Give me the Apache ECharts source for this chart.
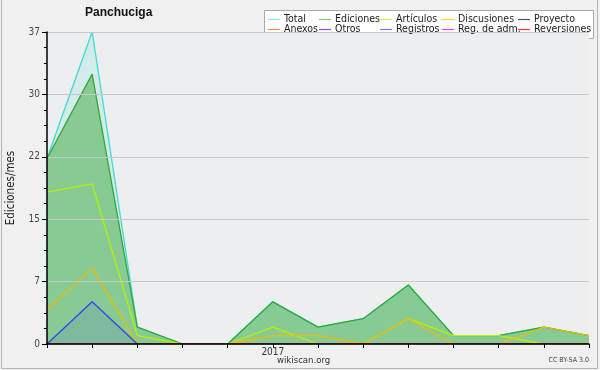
<!DOCTYPE html>
<html>
<head>
<meta charset="utf-8">
<script src="https://cdn.jsdelivr.net/npm/echarts@6/dist/echarts.min.js"></script>
<style>
html,body{margin:0;padding:0;background:#f0f0f0;}
#c{width:600px;height:370px;}
</style>
</head>
<body>
<div id="c"></div>
<script>
var categories = ['2016-08','2016-09','2016-10','2016-11','2016-12','2017-01','2017-02','2017-03','2017-04','2017-05','2017-06','2017-07','2017-08'];
var tickLabels = ['', '', '', '', '', '2017', '', '', '', '', '', '', ''];

var total       = [22, 37, 2, 0, 0, 5, 2, 3, 7, 1, 1, 2, 1];
var ediciones   = [22, 32, 2, 0, 0, 5, 2, 3, 7, 1, 1, 2, 1];
var articulos   = [18, 19, 1, 0, 0, 2, 0, 0, 3, 1, 1, 0, 0];
var discusiones = [4, 9, 0, 0, 0, 1, 1, 0, 3, 0, 0, 2, 1];
var proyecto    = [0, 0, 0, 0, 0, 0, 0, 0, 0, 0, 0, 0, 0];
var anexos      = [0, 0, 0, 0, 0, 0, 0, 0, 0, 0, 0, 0, 0];
var otros       = [0, 0, 0, 0, 0, 0, 0, 0, 0, 0, 0, 0, 0];
var registros   = [0, 5, 0, 0, 0, 0, 0, 0, 0, 0, 0, 0, 0];
var regAdm      = [0, 0, 0, 0, 0, 0, 0, 0, 0, 0, 0, 0, 0];
var reversiones = [0, 0, 0, 0, 0, 0, 0, 0, 0, 0, 0, 0, 0];

var seriesDefs = [
  {name:'Total', data: total, color:'#3ddbd0', legendColor:'#9ae6e2', area:'rgba(64,224,208,0.15)'},
  {name:'Ediciones', data: ediciones, color:'#33a833', legendColor:'#80cc80', area:'rgba(60,170,60,0.5)'},
  {name:'Artículos', data: articulos, color:'#b8f000', legendColor:'#ccee55'},
  {name:'Discusiones', data: discusiones, color:'#eebb00', legendColor:'#ffcc33'},
  {name:'Proyecto', data: proyecto, color:'#555555', legendColor:'#555555'},
  {name:'Anexos', data: anexos, color:'#ff8833', legendColor:'#ff8844'},
  {name:'Otros', data: otros, color:'#8833ee', legendColor:'#9944ee'},
  {name:'Registros', data: registros, color:'#3344ee', legendColor:'#7777ff', area:'rgba(50,50,255,0.1)'},
  {name:'Reg. de adm.', data: regAdm, color:'#dd33ee', legendColor:'#dd44ff'},
  {name:'Reversiones', data: reversiones, color:'#ff3333', legendColor:'#ff3333'}
];

var FONT = "'DejaVu Sans Condensed', 'Liberation Sans', sans-serif";

var legendCols = [268, 319, 380, 442, 518];
var legendRows = [13.5, 23.5];
var legends = seriesDefs.map(function(s, i){
  var col = i % 5, row = Math.floor(i / 5);
  return {
    left: legendCols[col], top: legendRows[row], padding: 0,
    itemWidth: 12, itemHeight: 1.2, itemGap: 0,
    icon: 'rect',
    selectedMode: false,
    textStyle: {fontFamily: FONT, fontSize: 10.5, color: '#222', lineHeight: 12, padding:[0,0,0,-1]},
    data: [{name: s.name, itemStyle: {color: s.legendColor}}]
  };
});

var series = seriesDefs.map(function(s){
  var o = {
    name: s.name, type: 'line', data: s.data,
    showSymbol: false, symbol: 'none',
    lineStyle: {color: s.color, width: 1.3},
    itemStyle: {color: s.color},
    animation: false
  };
  if (s.area) o.areaStyle = {color: s.area, opacity: 1, origin: 'start'};
  return o;
});

var chart = echarts.init(document.getElementById('c'), null, {renderer: 'canvas'});
chart.setOption({
  backgroundColor: '#f0f0f0',
  animation: false,
  title: {
    text: 'Panchuciga', left: 85, top: 7, padding: 0,
    textStyle: {fontFamily: "'Liberation Sans', Arial, sans-serif", fontSize: 12, fontWeight: 'bold', color: '#111'}
  },
  legend: legends,
  grid: {left: 47, right: 11, top: 32, bottom: 26, show: true, backgroundColor: '#edeef0', borderWidth: 0,
    containLabel: false, outerBoundsMode: 'none'},
  xAxis: {
    type: 'category', data: categories, boundaryGap: false, z: 5,
    axisLine: {lineStyle: {color: '#000', width: 1.5}},
    axisTick: {show: true, length: 4, interval: 0, lineStyle: {color: '#000'}},
    axisLabel: {interval: 0, margin: 3, fontFamily: FONT, fontSize: 10, color: '#333',
      formatter: function(v, i){ return tickLabels[i]; }},
    splitLine: {show: false}
  },
  yAxis: {
    type: 'value', min: 0, max: 37, interval: 7.4, z: 5,
    name: 'Ediciones/mes', nameLocation: 'middle', nameGap: 30, nameRotate: 90,
    nameTextStyle: {fontFamily: FONT, fontSize: 11.5, color: '#222'},
    axisLine: {show: true, lineStyle: {color: '#000', width: 1.5}},
    axisTick: {show: true, length: 5, lineStyle: {color: '#000'}},
    minorTick: {show: true, splitNumber: 4, length: 3, lineStyle: {color: '#000'}},
    axisLabel: {margin: 7, fontFamily: FONT, fontSize: 10, color: '#444',
      formatter: function(v){ return String(Math.round(v)); }},
    splitLine: {show: true, lineStyle: {color: '#c8c8c8', width: 1}}
  },
  series: series,
  graphic: [
    {type: 'polyline', shape: {points: [[1.5, 0], [1.5, 368.5], [597.5, 368.5], [597.5, 0]]},
      style: {stroke: '#b4b4b4', fill: null, lineWidth: 1}, silent: true, z: 0},
    {type: 'rect', shape: {x: 264.5, y: 10.5, width: 329, height: 28},
      style: {fill: '#ffffff', stroke: '#aaaaaa', lineWidth: 1}, z: -1, zlevel: 0, silent: true},
    {type: 'text', left: 277, top: 356,
      style: {text: 'wikiscan.org', fontFamily: FONT, fontSize: 9.5, fill: '#333'}, silent: true},
    {type: 'text', right: 11, top: 357,
      style: {text: 'CC BY-SA 3.0', fontFamily: FONT, fontSize: 7, fill: '#444'}, silent: true}
  ]
});
</script>
</body>
</html>
